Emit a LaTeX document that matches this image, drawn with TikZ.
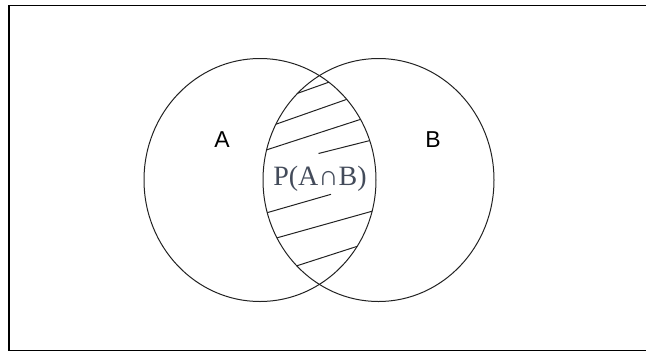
\documentclass[tikz,border=0pt]{standalone}
\usepackage{fontspec}
\setmainfont{Liberation Serif}
\newfontfamily\labelfont{Liberation Sans}
\usepackage{tikz}
\usetikzlibrary{positioning}
\definecolor{clLine}{HTML}{222222}
\definecolor{clText}{HTML}{434B5A}
\tikzset{
  frame/.style={draw=black, line width=1.9pt},
  venn/.style={draw=clLine, line width=1pt},
  hatch/.style={draw=clLine, line width=1pt},
  setlabel/.style={font=\labelfont\fontsize{23}{23}\selectfont, text=black, inner sep=0pt},
  areatext/.style={font=\fontsize{28}{28}\selectfont, text=clText, inner sep=0pt},
}
\begin{document}
\begin{tikzpicture}[x=1pt, y=-1pt]
  \useasboundingbox (0,0) rectangle (646,354);
  % frame, open on the right
  \draw[frame] (646,5.5) -- (9,5.5) -- (9,350.5) -- (646,350.5);
  % the two sets
  \coordinate (cA) at (260,180);
  \coordinate (cB) at (378.5,180);
  \draw[venn] (cA) ellipse [x radius=116, y radius=121.5];
  \draw[venn] (cB) ellipse [x radius=115.5, y radius=121.5];
  % hatching of the overlap
  \begin{scope}
    \clip (cA) ellipse [x radius=116, y radius=121.5];
    \clip (cB) ellipse [x radius=115.5, y radius=121.5];
    \draw[hatch] (290,96) -- (335,80);
    \draw[hatch] (268,127) -- (352,97.5);
    \draw[hatch] (260,152) -- (366,117.6);
    \draw[hatch] (318.5,153.5) -- (378,138.5);
    \draw[hatch] (258,215.3) -- (331,194.3);
    \draw[hatch] (270,239.8) -- (380,209);
    \draw[hatch] (290,268) -- (366,243.5);
  \end{scope}
  % labels
  \node[setlabel] (labA) at (222,140) {A};
  \node[setlabel] (labB) at (433,140) {B};
  \node[areatext] (labAB) at (320,179) {P(A∩B)};
\end{tikzpicture}
\end{document}
